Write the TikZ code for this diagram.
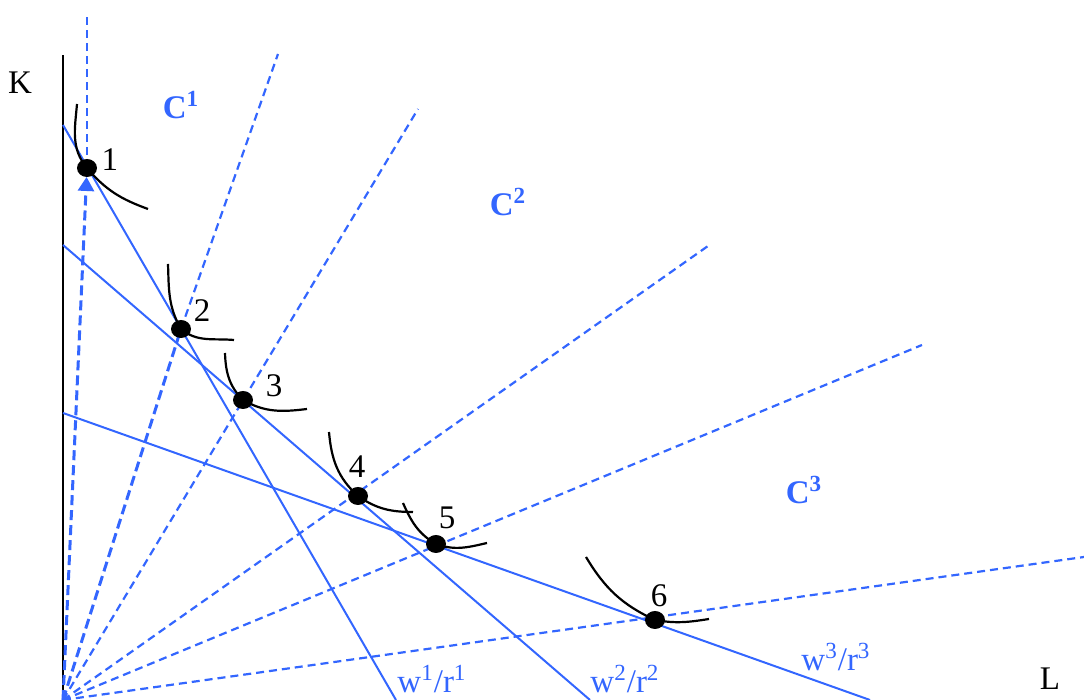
\documentclass[tikz,border=0pt]{standalone}
\usepackage{fontspec}
\setmainfont{Liberation Serif}
\usepackage{tikz}
\usetikzlibrary{arrows.meta,shapes.geometric}
\definecolor{pathblue}{RGB}{51,102,255}
\tikzset{
  axisline/.style = {black,line width=1.2bp},
  costline/.style = {pathblue,line width=1bp},
  raydash/.style  = {pathblue,line width=1.1bp,dash pattern=on 4bp off 2.5bp},
  raybold/.style  = {pathblue,line width=1.5bp,dash pattern=on 5bp off 2.5bp},
  isoquant/.style = {black,line width=1.1bp},
  eqdot/.style    = {ellipse,fill=black,inner sep=0pt,minimum width=10bp,minimum height=9bp},
  txt/.style      = {font=\fontsize{16.5bp}{20bp}\selectfont,inner sep=0pt},
  conelab/.style  = {txt,pathblue,font=\fontsize{16.5bp}{20bp}\selectfont\bfseries},
  costlab/.style  = {txt,pathblue}
}

\begin{document}
\begin{tikzpicture}[x=0.5bp,y=0.5bp]
  \useasboundingbox (0,0) rectangle (1084,700);
  % axis
  \coordinate (O) at (63,0);
  \coordinate (Ktop) at (63,645);
  \draw[axisline] (O) -- (Ktop);
  \node[txt] (K) at (20,617) {K};
  \node[txt] (L) at (1050,21) {L};
  % equilibrium positions
  \coordinate (q1) at (87,532);
  \coordinate (q2) at (181,371);
  \coordinate (q3) at (243,300);
  \coordinate (q4) at (358,204);
  \coordinate (q5) at (436,156);
  \coordinate (q6) at (655,80);
  % rays from the origin
  \coordinate (r1) at (87,686);
  \coordinate (r2) at (278,646);
  \coordinate (r3) at (418,591);
  \coordinate (r4) at (708,454);
  \coordinate (r5) at (922,355);
  \coordinate (r6) at (1084,143);
  \draw[raybold,shorten >=4.5bp,-{Triangle[length=7bp,width=8bp]}] (O) -- (q1);
  \draw[raydash] (q1) -- (r1);
  \draw[raybold] (O) -- (q2);
  \draw[raydash] (q2) -- (r2);
  \foreach \r in {r3,r4,r5,r6}
    \draw[raydash] (O) -- (\r);
  % isocost lines
  \coordinate (w1a) at (63,575);
  \coordinate (w1b) at (396,0);
  \coordinate (w2a) at (63,455);
  \coordinate (w2b) at (590,0);
  \coordinate (w3a) at (63,287);
  \coordinate (w3b) at (870,0);
  \draw[costline] (w1a) -- (w1b);
  \draw[costline] (w2a) -- (w2b);
  \draw[costline] (w3a) -- (w3b);
  \node[costlab] (c1) at (432,21) {w\textsuperscript{1}/r\textsuperscript{1}};
  \node[costlab] (c2) at (625,21) {w\textsuperscript{2}/r\textsuperscript{2}};
  \node[costlab] (c3) at (836,43) {w\textsuperscript{3}/r\textsuperscript{3}};
  % isoquants
  \draw[isoquant] (77,596) to[out=-95,in=130] (q1) to[out=-50,in=160] (148,491);
  \draw[isoquant] (168,436) to[out=-88,in=120] (q2) to[out=-40,in=175] (234,360);
  \draw[isoquant] (225,347) to[out=-88,in=135] (q3) to[out=-30,in=187] (307,291);
  \draw[isoquant] (329,268) to[out=-85,in=138] (q4) to[out=-35,in=180] (413,188);
  \draw[isoquant] (403,197) to[out=-66,in=150] (q5) to[out=-20,in=193] (487,157);
  \draw[isoquant] (586,143) to[out=-59,in=155] (q6) to[out=-10,in=189] (709,81);
  % points
  \node[eqdot] (p1) at (q1) {};
  \node[eqdot] (p2) at (q2) {};
  \node[eqdot] (p3) at (q3) {};
  \node[eqdot] (p4) at (q4) {};
  \node[eqdot] (p5) at (q5) {};
  \node[eqdot] (p6) at (q6) {};
  \node[txt] (n1) at (110,540) {1};
  \node[txt] (n2) at (202,389) {2};
  \node[txt] (n3) at (274,314) {3};
  \node[txt] (n4) at (357,233) {4};
  \node[txt] (n5) at (447,182) {5};
  \node[txt] (n6) at (659,104) {6};
  % cones
  \node[conelab] (C1) at (181,595) {C\textsuperscript{1}};
  \node[conelab] (C2) at (508,498) {C\textsuperscript{2}};
  \node[conelab] (C3) at (804,210) {C\textsuperscript{3}};
\end{tikzpicture}
\end{document}
